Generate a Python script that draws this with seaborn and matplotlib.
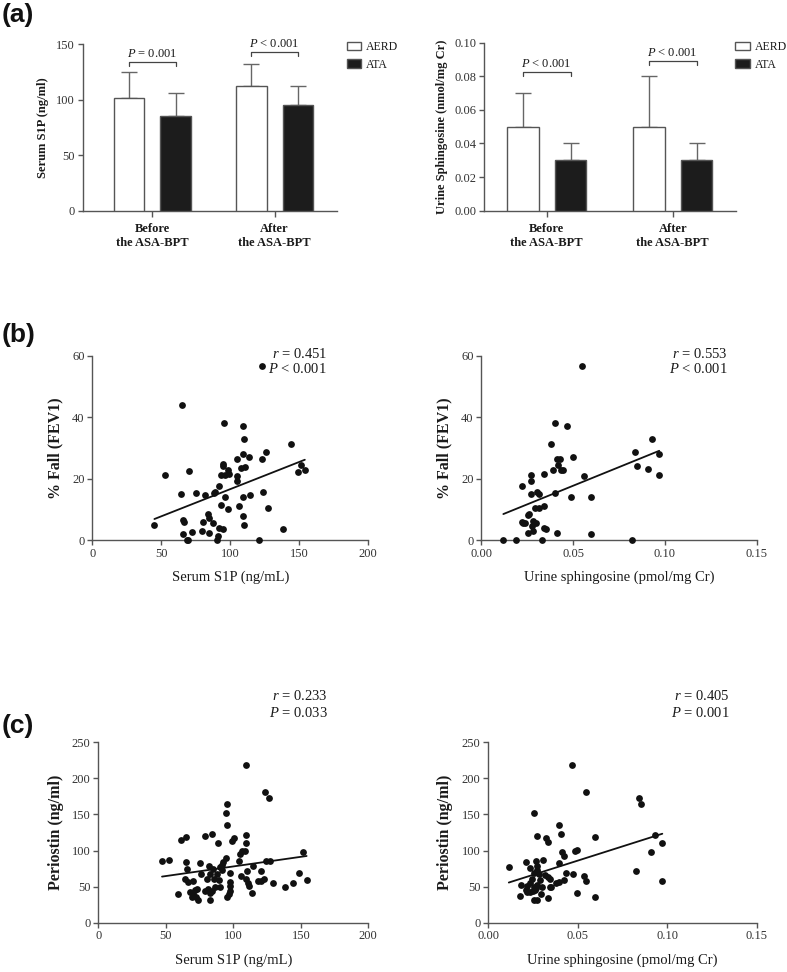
import numpy as np
import pandas as pd
import matplotlib
matplotlib.use("Agg")
import matplotlib.pyplot as plt
import seaborn as sns

# ── Data: panel (a) bar charts (mean, SD) ─────────────────────────────────────
groups = ["Before\nthe ASA-BPT", "After\nthe ASA-BPT"]
cohorts = ["AERD", "ATA"]

s1p_aerd = [102, 112]
s1p_aerd_sd = [23, 20]
s1p_ata = [85, 95]
s1p_ata_sd = [21, 17]
s1p_p = ["= 0.001", "< 0.001"]

sph_aerd = [0.05, 0.05]
sph_aerd_sd = [0.02, 0.03]
sph_ata = [0.03, 0.03]
sph_ata_sd = [0.01, 0.01]
sph_p = ["< 0.001", "< 0.001"]

# ── Data: panel (b) % fall FEV1 ───────────────────────────────────────────────
b_s1p = [123, 65, 95.5, 109, 110, 144, 126, 109.5, 105, 113.5, 123, 94.5, 95, 108,
         110.5, 151.5, 154, 149, 70, 52.5, 93.5, 98, 99, 96.5, 105, 104.5, 92, 64.5,
         75, 81.5, 88.5, 89, 96, 109, 114.5, 124, 93, 106, 98, 127.5, 83.5, 109, 84.5,
         66, 66.5, 80.5, 87.5, 110, 45, 92, 94.5, 138, 79.5, 72, 65.5, 84.5, 91, 68.5,
         69.5, 90.5, 120.5]
b_fall_s1p = [56.7, 44, 38.3, 37.1, 32.9, 31.2, 28.7, 28.2, 26.4, 27, 26.4, 24.8, 24.2,
              23.4, 23.7, 24.6, 22.8, 22.2, 22.6, 21.3, 21.1, 22.8, 21.5, 21.1, 20.9,
              19.3, 17.6, 15, 15.3, 14.8, 15.2, 15.7, 14, 14, 14.8, 15.7, 11.3, 11, 10.1,
              10.4, 8.5, 7.9, 7.2, 6.4, 6, 5.9, 5.4, 4.9, 5, 4, 3.5, 3.7, 2.9, 2.5, 2.1,
              2.4, 1.3, 0, 0, 0, 0]

b_sph = [0.0551, 0.0400, 0.0469, 0.0929, 0.0382, 0.0839, 0.0969, 0.0411, 0.0431, 0.0502,
         0.0850, 0.0420, 0.0909, 0.0388, 0.0433, 0.0444, 0.0341, 0.0558, 0.0969, 0.0270,
         0.0270, 0.0221, 0.0301, 0.0312, 0.0402, 0.0270, 0.0491, 0.0600, 0.0341, 0.0295,
         0.0313, 0.0261, 0.0254, 0.0221, 0.0228, 0.0281, 0.0297, 0.0239, 0.0274, 0.0342,
         0.0350, 0.0254, 0.0281, 0.0411, 0.0600, 0.0120, 0.0190, 0.0332, 0.0819]
b_fall_sph = [56.7, 38.3, 37.1, 32.9, 31.2, 28.7, 28.2, 26.4, 26.4, 27, 24.2, 24.6, 23.3,
              22.8, 22.8, 22.8, 21.6, 20.9, 21.1, 21.1, 19.3, 17.6, 15.5, 14.9, 15.2, 14.9,
              14, 14, 11.1, 10.3, 10.3, 8.4, 8.2, 6, 5.4, 6.2, 5.5, 5.7, 4.7, 4, 3.7, 2.4,
              2.9, 2.4, 2, 0, 0, 0, 0]

# ── Data: panel (c) periostin ─────────────────────────────────────────────────
c_s1p = [109.4, 123.2, 126.4, 95.1, 94.3, 95.6, 65.2, 61.2, 79.3, 84.2, 88.6, 100.7,
         98.8, 109.6, 109.4, 106.4, 108.4, 105, 104.2, 127.4, 124.4, 151.9, 47.2, 52.6,
         65, 75.3, 66, 94.3, 92.6, 90.1, 91.6, 81.7, 85.2, 83, 87.7, 91.4, 97.3, 76.3,
         80.2, 85.9, 89.5, 105.4, 110.1, 114.8, 120.5, 64.2, 66.2, 70.4, 109.1, 110.6,
         111.6, 118.5, 122.7, 120.2, 129.1, 138, 144.4, 148.9, 154.3, 58.8, 67.9, 71.6,
         73.1, 79.3, 81.2, 86.4, 90.4, 97.3, 97.3, 97.3, 96.5, 113.8, 70.4, 72.3, 74,
         69.1, 83, 83, 95.6, 84.4]
c_post_s1p = [218, 181, 173, 164, 152, 135, 119, 115, 120, 123, 111, 118, 113, 122, 110,
              100, 100, 95, 86, 86, 85, 97.5, 85, 87, 84, 83, 74, 90, 84, 77, 80, 78, 75,
              67, 68, 73, 69, 68, 61, 61, 59, 65, 71, 79, 72, 60, 56, 58, 61, 55, 51, 58,
              60, 58, 55, 50, 55, 69, 59, 40, 42.5, 45, 46.5, 44, 46.5, 50, 50, 56, 51, 44,
              40, 40.5, 40, 36, 32, 36, 32, 40.5, 35.5, 44.5]

c_sph = [0.0466, 0.0547, 0.0841, 0.0851, 0.0256, 0.0396, 0.0407, 0.0276, 0.0325, 0.0336,
         0.0599, 0.0931, 0.0972, 0.0910, 0.0414, 0.0424, 0.0483, 0.0496, 0.0823, 0.0972,
         0.0116, 0.0213, 0.0265, 0.0304, 0.0233, 0.0271, 0.0276, 0.0259, 0.0287, 0.0317,
         0.0336, 0.0345, 0.0433, 0.0474, 0.0396, 0.0535, 0.0545, 0.0396, 0.0422, 0.0381,
         0.0233, 0.0244, 0.0289, 0.0185, 0.0211, 0.0233, 0.0218, 0.0250, 0.0269, 0.0259,
         0.0271, 0.0302, 0.0345, 0.0354, 0.0295, 0.0261, 0.0179, 0.0254, 0.0276, 0.0336,
         0.0496, 0.0599, 0.0218]
c_post_sph = [218, 181, 173, 164, 152, 135, 123, 120, 118, 112, 119, 122, 110, 97.5, 98,
              93, 100, 101, 72, 58, 77, 84, 86, 87, 76, 73, 78, 69, 67.5, 66, 63, 60.5, 69,
              67, 83, 65, 58, 57, 59, 54.5, 55.5, 60.5, 59, 52, 45, 43, 42, 44, 47.5, 50,
              52, 50, 50, 50, 40, 45, 37, 31.5, 32, 34, 40.5, 35.5, 50.5]

# ── Style ─────────────────────────────────────────────────────────────────────
SPINE = "#555555"
TEXT = "#1a1a1a"
BAR_DARK = "#1c1c1c"

sns.set_style("ticks")
plt.rcParams.update({
    "font.family": ["Liberation Serif", "DejaVu Serif"],
    "mathtext.fontset": "custom",
    "mathtext.rm": "Liberation Serif",
    "mathtext.it": "Liberation Serif:italic",
    "text.color": TEXT,
    "axes.labelcolor": TEXT,
    "xtick.color": SPINE,
    "ytick.color": SPINE,
    "xtick.labelcolor": "#333333",
    "ytick.labelcolor": "#333333",
    "axes.edgecolor": SPINE,
    "axes.linewidth": 1.0,
})

W, H = 787, 972
fig = plt.figure(figsize=(W / 100, H / 100), dpi=100)


def axes_px(left, right, top, bottom):
    return fig.add_axes([left / W, 1 - bottom / H, (right - left) / W, (bottom - top) / H])


def style_axes(ax):
    sns.despine(ax=ax)
    ax.tick_params(direction="out", length=3.5, width=1, labelsize=9, pad=2)


def bar_panel(ax, aerd, aerd_sd, ata, ata_sd, pvals, bracket_y, tick_h, ylim, yticks,
              yfmt, ylabel, xlim, legend_xy):
    df = pd.DataFrame({"group": groups * 2,
                       "cohort": [cohorts[0]] * 2 + [cohorts[1]] * 2,
                       "value": aerd + ata})
    sns.barplot(data=df, x="group", y="value", hue="cohort",
                palette={"AERD": "white", "ATA": BAR_DARK},
                width=0.76, gap=0.34, errorbar=None, edgecolor=SPINE,
                linewidth=1, ax=ax, zorder=3)
    centers = []
    for cont, sd in zip(ax.containers, [aerd_sd, ata_sd]):
        cs = []
        for bar, e in zip(cont, sd):
            xc = bar.get_x() + bar.get_width() / 2
            cs.append(xc)
            ax.errorbar(xc, bar.get_height(), yerr=[[0], [e]], color="#666666",
                        capsize=5.5, elinewidth=1, capthick=1, zorder=2)
        centers.append(cs)
    for i, (pv, by) in enumerate(zip(pvals, bracket_y)):
        x1, x2 = centers[0][i], centers[1][i]
        ax.plot([x1, x1, x2, x2], [by - tick_h, by, by, by - tick_h],
                color="#444444", lw=0.9, clip_on=False)
        ax.text((x1 + x2) / 2, by + tick_h * 0.5, r"$P$ " + pv, ha="center",
                va="bottom", fontsize=9)
    ax.set_xlim(*xlim)
    ax.set_ylim(*ylim)
    ax.set_yticks(yticks)
    ax.set_yticklabels([yfmt.format(v) for v in yticks])
    ax.set_xlabel("")
    ax.set_ylabel(ylabel, fontsize=9, fontweight="bold", labelpad=5)
    style_axes(ax)
    ax.tick_params(axis="x", length=4, pad=5)
    for lab in ax.get_xticklabels():
        lab.set_fontweight("bold")
        lab.set_fontsize(9)
        lab.set_color(TEXT)
    sns.move_legend(ax, "upper left", bbox_to_anchor=legend_xy, frameon=False,
                    title=None, fontsize=8.5, handlelength=1.25, handleheight=0.75,
                    labelspacing=0.5, borderpad=0, borderaxespad=0, handletextpad=0.4)


def scatter_panel(ax, x, y, xlim, xticks, xfmt, ylim, yticks, xlabel, ylabel,
                  r_txt, p_txt, txt_x, txt_y):
    sns.regplot(x=np.array(x), y=np.array(y), ci=None, ax=ax,
                scatter_kws=dict(s=24, color="#111111", alpha=1, linewidths=0,
                                 clip_on=False, zorder=3),
                line_kws=dict(color="#111111", lw=1.3))
    ax.set_xlim(*xlim)
    ax.set_ylim(*ylim)
    ax.set_xticks(xticks)
    ax.set_xticklabels([xfmt.format(v) for v in xticks])
    ax.set_yticks(yticks)
    ax.set_xlabel(xlabel, fontsize=10.5, labelpad=8)
    ax.set_ylabel(ylabel, fontsize=11.5, fontweight="bold", labelpad=6)
    style_axes(ax)
    ax.text(txt_x, txt_y[0], r"$r$ = " + r_txt, transform=ax.transAxes, ha="right",
            va="center", fontsize=10.5)
    ax.text(txt_x, txt_y[1], r"$P$ " + p_txt, transform=ax.transAxes, ha="right",
            va="center", fontsize=10.5)


# ── (a) ───────────────────────────────────────────────────────────────────────
ax1 = axes_px(82.7, 337, 44.3, 210.7)
bar_panel(ax1, s1p_aerd, s1p_aerd_sd, s1p_ata, s1p_ata_sd, s1p_p, [133.8, 142.8], 3.5,
          (0, 150), [0, 50, 100, 150], "{:.0f}", "Serum S1P (ng/ml)", (-0.57, 1.51),
          (1.038, 1.02))

ax2 = axes_px(484.3, 735.7, 42.7, 210.7)
bar_panel(ax2, sph_aerd, sph_aerd_sd, sph_ata, sph_ata_sd, sph_p, [0.0827, 0.0891], 0.0024,
          (0, 0.10), [0, 0.02, 0.04, 0.06, 0.08, 0.10], "{:.2f}",
          "Urine Sphingosine (nmol/mg Cr)", (-0.495, 1.5), (0.997, 1.01))

# ── (b) ───────────────────────────────────────────────────────────────────────
ax3 = axes_px(92.3, 368.3, 356, 540)
scatter_panel(ax3, b_s1p, b_fall_s1p, (0, 200), [0, 50, 100, 150, 200], "{:.0f}",
              (0, 60), [0, 20, 40, 60], "Serum S1P (ng/mL)", "% Fall (FEV1)",
              "0.451", "< 0.001", 0.85, (1.011, 0.929))

ax4 = axes_px(481.3, 756.7, 356, 540)
scatter_panel(ax4, b_sph, b_fall_sph, (0, 0.15), [0, 0.05, 0.10, 0.15], "{:.2f}",
              (0, 60), [0, 20, 40, 60], "Urine sphingosine (pmol/mg Cr)", "% Fall (FEV1)",
              "0.553", "< 0.001", 0.895, (1.011, 0.929))

# ── (c) ───────────────────────────────────────────────────────────────────────
ax5 = axes_px(98.3, 368.3, 742.3, 922.7)
scatter_panel(ax5, c_s1p, c_post_s1p, (0, 200), [0, 50, 100, 150, 200], "{:.0f}",
              (0, 250), [0, 50, 100, 150, 200, 250], "Serum S1P (ng/mL)",
              "Periostin (ng/ml)", "0.233", "= 0.033", 0.851, (1.254, 1.16))

ax6 = axes_px(488, 757, 742.3, 922.7)
scatter_panel(ax6, c_sph, c_post_sph, (0, 0.15), [0, 0.05, 0.10, 0.15], "{:.2f}",
              (0, 250), [0, 50, 100, 150, 200, 250], "Urine sphingosine (pmol/mg Cr)",
              "Periostin (ng/ml)", "0.405", "= 0.001", 0.9, (1.254, 1.16))

# ── Panel letters ─────────────────────────────────────────────────────────────
for lab, yc in [("(a)", 15), ("(b)", 335), ("(c)", 726)]:
    fig.text(0.002, 1 - yc / H, lab, ha="left", va="center", fontsize=19,
             fontweight="bold", family=["Liberation Sans", "DejaVu Sans"], color="#111111")

fig.savefig("out.png", dpi=100)
